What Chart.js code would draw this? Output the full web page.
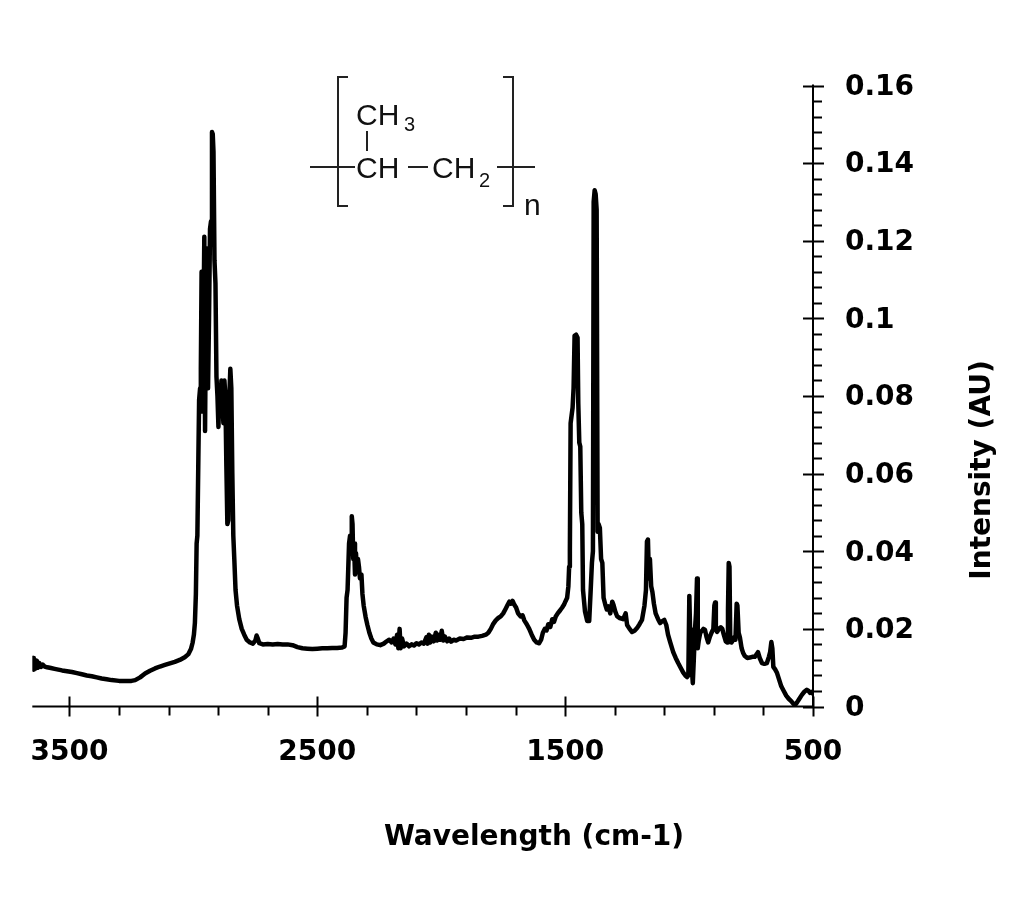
<!DOCTYPE html>
<html>
<head>
<meta charset="utf-8">
<script src="https://cdn.jsdelivr.net/npm/chart.js@4"></script>
<style>
  html, body { margin: 0; padding: 0; background: #fff; }
  #wrap { position: relative; width: 1024px; height: 902px; }
  canvas { display: block; }
</style>
</head>
<body>
<div id="wrap"><canvas id="c" width="1024" height="902"></canvas></div>
<script>
// ---- data ----
const wavenumbers = [
  3650,3647,3644,3640,3636,3632,3627,3622,3615,3608,3600,3590,3575,3560,3545,3530,3510,3490,3470,3450,
  3430,3410,3390,3370,3350,3330,3300,3270,3250,3235,3215,3195,3175,3155,3135,3115,3095,3075,3055,3035,
  3020,3010,3003,2998,2994,2990,2987,2984,2980,2977,2973,2970,2967,2964,2960,2956,2953,2949,2945,2941,
  2937,2933,2929,2925,2922,2919,2915,2911,2907,2903,2899,2895,2891,2887,2883,2879,2875,2871,2867,2863,
  2859,2855,2851,2847,2843,2839,2835,2830,2824,2815,2805,2795,2785,2772,2760,2750,2745,2740,2734,2720,
  2700,2680,2660,2640,2620,2600,2580,2560,2540,2520,2500,2480,2460,2440,2420,2400,2390,2386,2382,2378,
  2372,2368,2364,2361,2358,2355,2352,2348,2344,2340,2336,2332,2328,2322,2318,2313,2305,2298,2290,2282,
  2274,2260,2246,2232,2220,2210,2200,2192,2185,2178,2173,2168,2164,2158,2150,2140,2130,2120,2110,2100,
  2090,2080,2070,2060,2055,2050,2044,2038,2030,2022,2016,2010,2004,1998,1992,1985,1976,1968,1960,1950,
  1940,1925,1910,1895,1880,1865,1850,1835,1820,1810,1800,1790,1780,1770,1760,1750,1740,1732,1725,1718,
  1712,1705,1698,1690,1680,1672,1665,1655,1645,1635,1625,1615,1605,1597,1590,1582,1575,1568,1560,1552,
  1545,1538,1530,1520,1512,1505,1498,1492,1487,1484,1481,1478,1474,1470,1466,1462,1456,1450,1447,1443,
  1439,1435,1431,1428,1420,1411,1403,1397,1392,1388,1385,1381,1377,1373,1369,1365,1360,1355,1350,1345,
  1338,1332,1325,1318,1310,1305,1298,1290,1280,1266,1256,1250,1240,1230,1220,1210,1200,1190,1180,1174,
  1170,1166,1162,1158,1153,1148,1142,1135,1125,1117,1108,1100,1092,1085,1076,1064,1054,1044,1034,1024,
  1015,1008,1003,999,996,993,989,985,981,976,972,968,965,961,955,948,942,936,930,923,
  916,908,902,898,895,892,887,880,872,866,860,852,847,843,840,837,834,829,824,818,
  813,808,805,800,795,788,782,775,765,755,745,735,727,722,715,706,696,686,678,673,
  668,664,660,652,645,637,628,618,608,598,588,578,572,565,555,545,535,525,518,512,
  505,500
];
const intensity = [
  0.0110,0.0125,0.0095,0.0120,0.0098,0.0118,0.0100,0.0112,0.0102,0.0108,0.0103,0.0101,0.0099,0.0097,0.0095,0.0093,0.0091,0.0089,0.0086,0.0083,
  0.0080,0.0078,0.0075,0.0072,0.0070,0.0068,0.0066,0.0066,0.0066,0.0068,0.0075,0.0085,0.0092,0.0098,0.0103,0.0107,0.0111,0.0115,0.0120,0.0127,
  0.0135,0.0148,0.0165,0.0185,0.0215,0.0290,0.0420,0.0440,0.0640,0.0790,0.0820,0.0870,0.1120,0.0760,0.0950,0.1210,0.0710,0.1050,0.1180,0.0820,
  0.1000,0.1230,0.1250,0.1480,0.1475,0.1430,0.1150,0.1090,0.0850,0.0800,0.0720,0.0820,0.0760,0.0840,0.0790,0.0730,0.0840,0.0800,0.0620,0.0470,
  0.0480,0.0800,0.0870,0.0820,0.0600,0.0440,0.0380,0.0300,0.0260,0.0225,0.0200,0.0185,0.0172,0.0165,0.0162,0.0170,0.0183,0.0175,0.0163,0.0160,
  0.0161,0.0160,0.0161,0.0160,0.0160,0.0158,0.0153,0.0150,0.0149,0.0148,0.0149,0.0150,0.0150,0.0151,0.0151,0.0152,0.0155,0.0190,0.0280,0.0300,
  0.0420,0.0440,0.0400,0.0490,0.0470,0.0380,0.0420,0.0340,0.0395,0.0350,0.0380,0.0360,0.0330,0.0340,0.0290,0.0260,0.0230,0.0210,0.0190,0.0175,
  0.0165,0.0160,0.0158,0.0162,0.0168,0.0172,0.0165,0.0175,0.0160,0.0185,0.0150,0.0200,0.0150,0.0175,0.0155,0.0162,0.0155,0.0160,0.0157,0.0163,
  0.0160,0.0165,0.0162,0.0178,0.0162,0.0185,0.0165,0.0180,0.0168,0.0190,0.0170,0.0185,0.0172,0.0195,0.0170,0.0180,0.0168,0.0175,0.0167,0.0172,
  0.0170,0.0175,0.0174,0.0178,0.0177,0.0180,0.0180,0.0182,0.0185,0.0190,0.0200,0.0213,0.0222,0.0228,0.0232,0.0240,0.0252,0.0262,0.0270,0.0265,
  0.0272,0.0262,0.0255,0.0240,0.0232,0.0235,0.0222,0.0212,0.0200,0.0185,0.0172,0.0165,0.0163,0.0172,0.0190,0.0200,0.0196,0.0212,0.0205,0.0225,
  0.0218,0.0232,0.0240,0.0248,0.0255,0.0262,0.0272,0.0280,0.0310,0.0360,0.0400,0.0730,0.0750,0.0770,0.0820,0.0955,0.0958,0.0950,0.0780,0.0680,
  0.0670,0.0500,0.0470,0.0300,0.0245,0.0220,0.0220,0.0300,0.0370,0.0400,0.1300,0.1330,0.1320,0.1280,0.0450,0.0470,0.0460,0.0380,0.0370,0.0280,
  0.0262,0.0250,0.0258,0.0240,0.0270,0.0262,0.0245,0.0232,0.0228,0.0225,0.0240,0.0210,0.0200,0.0192,0.0195,0.0202,0.0212,0.0223,0.0260,0.0300,
  0.0425,0.0430,0.0330,0.0380,0.0310,0.0295,0.0265,0.0240,0.0225,0.0215,0.0220,0.0223,0.0210,0.0185,0.0165,0.0140,0.0125,0.0112,0.0100,0.0088,
  0.0080,0.0076,0.0080,0.0285,0.0200,0.0110,0.0100,0.0060,0.0120,0.0200,0.0240,0.0330,0.0150,0.0170,0.0190,0.0195,0.0200,0.0198,0.0180,0.0165,
  0.0180,0.0192,0.0200,0.0260,0.0268,0.0200,0.0192,0.0200,0.0204,0.0200,0.0185,0.0168,0.0165,0.0250,0.0370,0.0360,0.0180,0.0165,0.0170,0.0178,
  0.0172,0.0265,0.0260,0.0190,0.0178,0.0150,0.0138,0.0130,0.0125,0.0126,0.0128,0.0128,0.0135,0.0140,0.0125,0.0112,0.0110,0.0112,0.0128,0.0140,
  0.0166,0.0150,0.0102,0.0095,0.0086,0.0070,0.0052,0.0040,0.0028,0.0020,0.0014,0.0006,0.0004,0.0010,0.0020,0.0030,0.0038,0.0043,0.0040,0.0035,
  0.0038,0.0033
];
const xTicks = [3500, 2500, 1500, 500];
const xMinorStep = 200;
const yTicks = [0, 0.02, 0.04, 0.06, 0.08, 0.1, 0.12, 0.14, 0.16];
const yMinorStep = 0.004;
const xTitle = 'Wavelength (cm-1)';
const yTitle = 'Intensity (AU)';

const BOLD = '"DejaVu Sans", Verdana, sans-serif';
const ARIAL = '"Liberation Sans", Arial, Helvetica, sans-serif';

// axes, ticks, titles and the structural formula
const decor = {
  id: 'decor',
  afterDraw(chart) {
    const {ctx, chartArea: a, scales: {x, y}} = chart;
    ctx.save();
    ctx.strokeStyle = '#000';
    ctx.lineWidth = 2;
    ctx.lineCap = 'butt';
    ctx.beginPath();
    ctx.moveTo(a.left, a.bottom); ctx.lineTo(a.right + 1, a.bottom);
    ctx.moveTo(a.right, a.top - 1); ctx.lineTo(a.right, a.bottom + 1);
    // x ticks (majors cross the axis, minors hang below)
    const xMinStart = xTicks[xTicks.length - 1];
    for (let v = xMinStart; v <= x.max + 1e-6; v += xMinorStep) {
      const px = Math.round(x.getPixelForValue(v)) + 0.5;
      const major = xTicks.some(t => Math.abs(t - v) < 1e-6);
      ctx.moveTo(px, a.bottom + (major ? -10 : 0));
      ctx.lineTo(px, a.bottom + (major ? 10 : 9));
    }
    // y ticks (majors cross the axis, minors point right)
    for (let i = 0; ; i++) {
      const v = y.min + i * yMinorStep;
      if (v > y.max + 1e-9) break;
      const py = Math.round(y.getPixelForValue(v)) + 0.5;
      const major = yTicks.some(t => Math.abs(t - v) < 1e-9);
      ctx.moveTo(a.right + (major ? -10 : 0), py);
      ctx.lineTo(a.right + (major ? 11 : 9), py);
    }
    ctx.stroke();

    // axis titles
    ctx.fillStyle = '#000';
    ctx.font = 'bold 28px ' + BOLD;
    ctx.textAlign = 'center';
    ctx.textBaseline = 'alphabetic';
    ctx.fillText(xTitle, 534, 845);
    ctx.save();
    ctx.translate(990, 470);
    ctx.rotate(-Math.PI / 2);
    ctx.fillText(yTitle, 0, 0);
    ctx.restore();

    // structural formula of polypropylene
    ctx.strokeStyle = '#222';
    ctx.fillStyle = '#111';
    ctx.lineWidth = 2;
    ctx.beginPath();
    ctx.moveTo(348, 77); ctx.lineTo(338, 77); ctx.lineTo(338, 206); ctx.lineTo(348, 206);
    ctx.moveTo(503, 77); ctx.lineTo(513, 77); ctx.lineTo(513, 206); ctx.lineTo(503, 206);
    ctx.moveTo(310, 167); ctx.lineTo(355, 167);
    ctx.moveTo(497, 167); ctx.lineTo(535, 167);
    ctx.moveTo(367, 131); ctx.lineTo(367, 151);
    ctx.moveTo(408, 167); ctx.lineTo(428, 167);
    ctx.stroke();
    ctx.textAlign = 'left';
    ctx.font = '30px ' + ARIAL;
    ctx.fillText('CH', 356, 125);
    ctx.fillText('CH', 356, 178);
    ctx.fillText('CH', 432, 178);
    ctx.fillText('n', 524, 215);
    ctx.font = '20px ' + ARIAL;
    ctx.fillText('3', 404, 131);
    ctx.fillText('2', 479, 187);
    ctx.restore();
  }
};

new Chart(document.getElementById('c'), {
  type: 'line',
  data: {
    datasets: [{
      data: wavenumbers.map((w, i) => ({x: w, y: intensity[i]})),
      borderColor: '#000',
      borderWidth: 4.5,
      pointRadius: 0,
      tension: 0,
      borderJoinStyle: 'round',
      borderCapStyle: 'round',
      fill: false
    }]
  },
  options: {
    responsive: false,
    animation: false,
    devicePixelRatio: 1,
    layout: {padding: {left: 32, top: 85.5, right: 0, bottom: 0}},
    plugins: {legend: {display: false}, tooltip: {enabled: false}, title: {display: false}},
    scales: {
      x: {
        type: 'linear', reverse: true, min: 500, max: 3650,
        afterBuildTicks: s => { s.ticks = xTicks.map(v => ({value: v})); },
        afterFit: s => { s.height = 902 - 706.5; },
        grid: {display: false, drawTicks: false},
        border: {display: false},
        ticks: {padding: 29, maxRotation: 0, autoSkip: false, color: '#000',
                font: {family: BOLD, size: 28, weight: 'bold'},
                callback: v => String(v)}
      },
      y: {
        position: 'right', min: 0, max: 0.16,
        afterBuildTicks: s => { s.ticks = yTicks.map(v => ({value: v})); },
        afterFit: s => { s.width = 1024 - 813; },
        grid: {display: false, drawTicks: false},
        border: {display: false},
        ticks: {padding: 32, labelOffset: 2, color: '#000',
                font: {family: BOLD, size: 28, weight: 'bold'},
                callback: v => String(+(+v).toFixed(3))}
      }
    }
  },
  plugins: [decor]
});
</script>
</body>
</html>
